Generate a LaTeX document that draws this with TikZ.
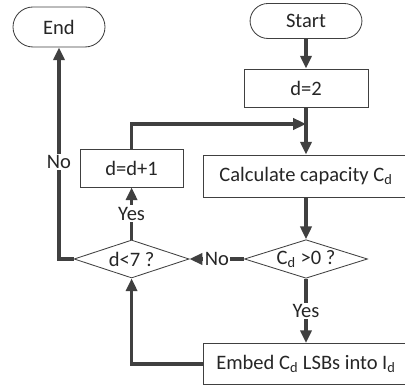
\documentclass[tikz,border=0pt]{standalone}
\usepackage{fontspec}
\setmainfont{Carlito}
\usetikzlibrary{shapes.geometric, arrows.meta, positioning, calc}
\definecolor{flowgray}{HTML}{404040}
\tikzset{
    box/.style={draw=flowgray, line width=0.6pt, fill=white, align=center, text=black!85, minimum height=0.95cm, inner sep=1pt},
    term/.style={box, rounded corners=0.45cm},
    decision/.style={box, diamond, aspect=3, inner sep=0.5pt},
    arrow/.style={-{Triangle[length=0.32cm, width=0.28cm]}, line width=2.2pt, flowgray},
    lbl/.style={fill=white, inner sep=1pt, text=black!85}
}

\begin{document}
\begin{tikzpicture}[font=\fontsize{14.6}{17}\selectfont]
        \useasboundingbox (0,0) rectangle (10.125,-9.675);
        % Define nodes
        \node [term, minimum width=2.8cm, minimum height=0.875cm] (start) at (7.65,-0.525) {Start};
        \node [term, minimum width=2.3cm, minimum height=1.0cm, rounded corners=0.5cm] (end) at (1.475,-0.675) {End};
        \node [box, minimum width=3.1cm] (init) at (7.65,-2.2) {d=2};
        \node [box, minimum width=2.575cm] (incr) at (3.29,-4.2) {d=d+1};
        \node [box, minimum width=5.15cm, minimum height=1.05cm] (calc) at (7.65,-4.4) {Calculate capacity C\textsubscript{d}};
        \node [decision, minimum width=3.075cm, minimum height=0.95cm] (pos) at (7.65,-6.475) {C\textsubscript{d} >0 ?};
        \node [decision, minimum width=2.875cm, minimum height=0.95cm] (less) at (3.29,-6.475) {d<7 ?};
        \node [box, minimum width=5.15cm, minimum height=1.025cm] (embed) at (7.65,-9.1) {Embed C\textsubscript{d} LSBs into I\textsubscript{d}};
        \coordinate (join) at (7.65,-3.1);

        \draw [arrow] (start) -- (init);
        \draw [arrow] (init) -- (calc);
        \draw [arrow] (incr.north) |- (join);
        \draw [arrow] (calc) -- (pos);
        \draw [arrow] (pos.south) -- node[lbl] {Yes} (embed.north);
        \draw [arrow] (pos.west) -- node[lbl] {No} (less.east);
        \draw [arrow] (less.north) -- node[lbl] {Yes} (incr.south);
        \draw [arrow] (embed.west) -| (less.south);
        \draw [arrow] (less.west) -| node[lbl, pos=0.73] {No} (end.south);
    \end{tikzpicture}
\end{document}
